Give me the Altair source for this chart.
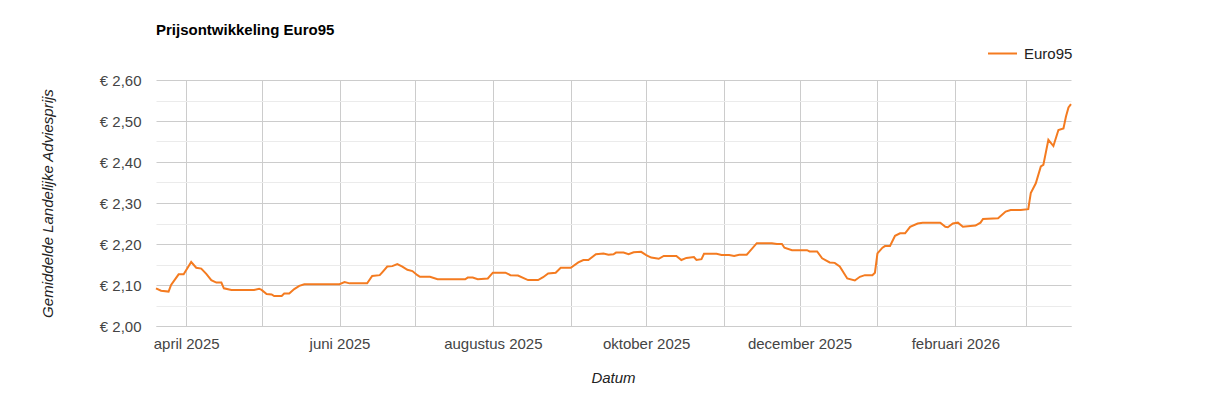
import altair as alt
import pandas as pd

# ---- data ----
dates = [
    "2025-03-20", "2025-03-22", "2025-03-25", "2025-03-26", "2025-03-29", "2025-03-31",
    "2025-04-03", "2025-04-05", "2025-04-07", "2025-04-09", "2025-04-11", "2025-04-13",
    "2025-04-15", "2025-04-16", "2025-04-19", "2025-04-28", "2025-04-30",
    "2025-05-01", "2025-05-03", "2025-05-05", "2025-05-06", "2025-05-09", "2025-05-10",
    "2025-05-12", "2025-05-14", "2025-05-16", "2025-05-18",
    "2025-06-01", "2025-06-03", "2025-06-05", "2025-06-12", "2025-06-14", "2025-06-17",
    "2025-06-18", "2025-06-20", "2025-06-22", "2025-06-24", "2025-06-26", "2025-06-28",
    "2025-06-30",
    "2025-07-02", "2025-07-03", "2025-07-07", "2025-07-10", "2025-07-21", "2025-07-22",
    "2025-07-24", "2025-07-26", "2025-07-30",
    "2025-08-01", "2025-08-06", "2025-08-08", "2025-08-11", "2025-08-15", "2025-08-19",
    "2025-08-21", "2025-08-23", "2025-08-26", "2025-08-28",
    "2025-09-01", "2025-09-04", "2025-09-06", "2025-09-08", "2025-09-11", "2025-09-14",
    "2025-09-16", "2025-09-18", "2025-09-19", "2025-09-22", "2025-09-24", "2025-09-26",
    "2025-09-29",
    "2025-10-01", "2025-10-03", "2025-10-06", "2025-10-08", "2025-10-13", "2025-10-15",
    "2025-10-17", "2025-10-20", "2025-10-21", "2025-10-23", "2025-10-24", "2025-10-29",
    "2025-10-31",
    "2025-11-03", "2025-11-05", "2025-11-07", "2025-11-10", "2025-11-11", "2025-11-14",
    "2025-11-20", "2025-11-22", "2025-11-24", "2025-11-25", "2025-11-28",
    "2025-12-04", "2025-12-05", "2025-12-08", "2025-12-10", "2025-12-13", "2025-12-15",
    "2025-12-17", "2025-12-20", "2025-12-23", "2025-12-25", "2025-12-27", "2025-12-30",
    "2025-12-31",
    "2026-01-01", "2026-01-03", "2026-01-04", "2026-01-06", "2026-01-08", "2026-01-10",
    "2026-01-12", "2026-01-14", "2026-01-17", "2026-01-19", "2026-01-26", "2026-01-28",
    "2026-01-29", "2026-01-31",
    "2026-02-02", "2026-02-04", "2026-02-09", "2026-02-11", "2026-02-12", "2026-02-18",
    "2026-02-21", "2026-02-23", "2026-02-27",
    "2026-03-02", "2026-03-03", "2026-03-05", "2026-03-07", "2026-03-08", "2026-03-10",
    "2026-03-12", "2026-03-14", "2026-03-16", "2026-03-17", "2026-03-18", "2026-03-19",
]
prices = [
    2.092, 2.086, 2.084, 2.100, 2.126, 2.126,
    2.156, 2.142, 2.140, 2.127, 2.112, 2.106,
    2.106, 2.092, 2.088, 2.088, 2.091,
    2.088, 2.078, 2.077, 2.073, 2.073, 2.079,
    2.079, 2.090, 2.098, 2.102,
    2.102, 2.107, 2.104, 2.104, 2.122, 2.124,
    2.131, 2.145, 2.146, 2.151, 2.145, 2.137,
    2.134,
    2.124, 2.120, 2.120, 2.114, 2.114, 2.118,
    2.118, 2.114, 2.116,
    2.130, 2.130, 2.124, 2.123, 2.112, 2.112,
    2.119, 2.128, 2.130, 2.142,
    2.142, 2.155, 2.161, 2.161, 2.175, 2.177,
    2.174, 2.175, 2.179, 2.179, 2.175, 2.180,
    2.181,
    2.173, 2.167, 2.164, 2.171, 2.171, 2.161,
    2.166, 2.168, 2.161, 2.163, 2.176, 2.176,
    2.173,
    2.173, 2.171, 2.174, 2.174, 2.181, 2.202,
    2.202, 2.200, 2.200, 2.191, 2.185,
    2.185, 2.182, 2.182, 2.165, 2.155, 2.154,
    2.145, 2.116, 2.111, 2.120, 2.124, 2.124,
    2.130,
    2.177, 2.191, 2.195, 2.195, 2.220, 2.226,
    2.226, 2.242, 2.250, 2.252, 2.252, 2.242,
    2.241, 2.250,
    2.252, 2.242, 2.245, 2.252, 2.261, 2.263,
    2.279, 2.283, 2.283,
    2.285, 2.324, 2.348, 2.389, 2.393, 2.454,
    2.439, 2.478, 2.482, 2.511, 2.533, 2.541,
]
series_name = "Euro95"
chart_title = "Prijsontwikkeling Euro95"
y_title = "Gemiddelde Landelijke Adviesprijs"
x_title = "Datum"
month_names = ["januari", "februari", "maart", "april", "mei", "juni", "juli",
               "augustus", "september", "oktober", "november", "december"]
y_ticks = [2.00, 2.05, 2.10, 2.15, 2.20, 2.25, 2.30, 2.35, 2.40, 2.45, 2.50, 2.55, 2.60]
month_ticks = [(2025, m) for m in range(4, 13)] + [(2026, m) for m in range(1, 4)]

df = pd.DataFrame({"date": dates, "price": prices, "serie": series_name})

FONT = "Liberation Sans"
major_test = "abs(datum.value*10 - round(datum.value*10)) < 0.001"
names_js = "[" + ",".join("'" + n + "'" for n in month_names) + "]"

x_axis = alt.Axis(
    values=[alt.DateTime(year=y, month=m, date=1, utc=True) for y, m in month_ticks],
    labelExpr=f"utcmonth(datum.value) % 2 == 1 ? {names_js}[utcmonth(datum.value)] + ' ' + utcyear(datum.value) : ''",
    grid=True, gridColor="#cccccc", gridWidth=1,
    domain=True, domainColor="#cccccc", ticks=False,
    labelFont=FONT, labelFontSize=15, labelColor="#444444", labelPadding=10,
    labelAlign="center", labelOverlap=False, labelBound=False, labelFlush=False,
    title=x_title, titleFont=FONT, titleFontSize=15, titleFontStyle="italic",
    titleFontWeight="normal", titleColor="#222222",
    titleX=457, titleY=51, titleAlign="center", titleBaseline="middle",
)

y_axis = alt.Axis(
    values=y_ticks,
    labelExpr=f"{major_test} ? '€ ' + replace(format(datum.value, '.2f'), '.', ',') : ''",
    grid=True,
    gridColor={"condition": {"test": major_test, "value": "#cccccc"}, "value": "#ebebeb"},
    domain=False, ticks=False,
    labelFont=FONT, labelFontSize=15, labelColor="#444444", labelPadding=15,
    labelOverlap=False, labelBound=False, labelFlush=False,
    title=y_title, titleFont=FONT, titleFontSize=15, titleFontStyle="italic",
    titleFontWeight="normal", titleColor="#222222",
    titleX=-109, titleY=123, titleAngle=270, titleAlign="center", titleBaseline="middle",
)

chart = alt.Chart(df).mark_line(strokeWidth=2, interpolate="linear").encode(
    x=alt.X("date:T",
            scale=alt.Scale(type="utc",
                            domain=[alt.DateTime(year=2025, month=3, date=20, utc=True),
                                    alt.DateTime(year=2026, month=3, date=19, utc=True)]),
            axis=x_axis),
    y=alt.Y("price:Q", scale=alt.Scale(domain=[2.0, 2.6], nice=False, zero=False), axis=y_axis),
    color=alt.Color("serie:N",
                    scale=alt.Scale(domain=[series_name], range=["#f47b20"]),
                    legend=alt.Legend(title=None, orient="none", legendX=831, legendY=-42,
                                      symbolType="stroke", symbolSize=841, symbolStrokeWidth=2,
                                      labelFont=FONT, labelFontSize=15, labelColor="#222222",
                                      labelOffset=6, padding=0)),
).properties(
    width=915,
    height=246,
    autosize="none",
    padding={"left": 148, "top": 72, "right": 140, "bottom": 60},
    title=alt.Title(chart_title, anchor="start", frame="group", font=FONT, fontSize=15,
                    fontWeight="bold", color="#000000", offset=-12, baseline="alphabetic"),
).configure_view(stroke=None)

chart.save("out.html", embed_options={"renderer": "svg", "actions": False})
